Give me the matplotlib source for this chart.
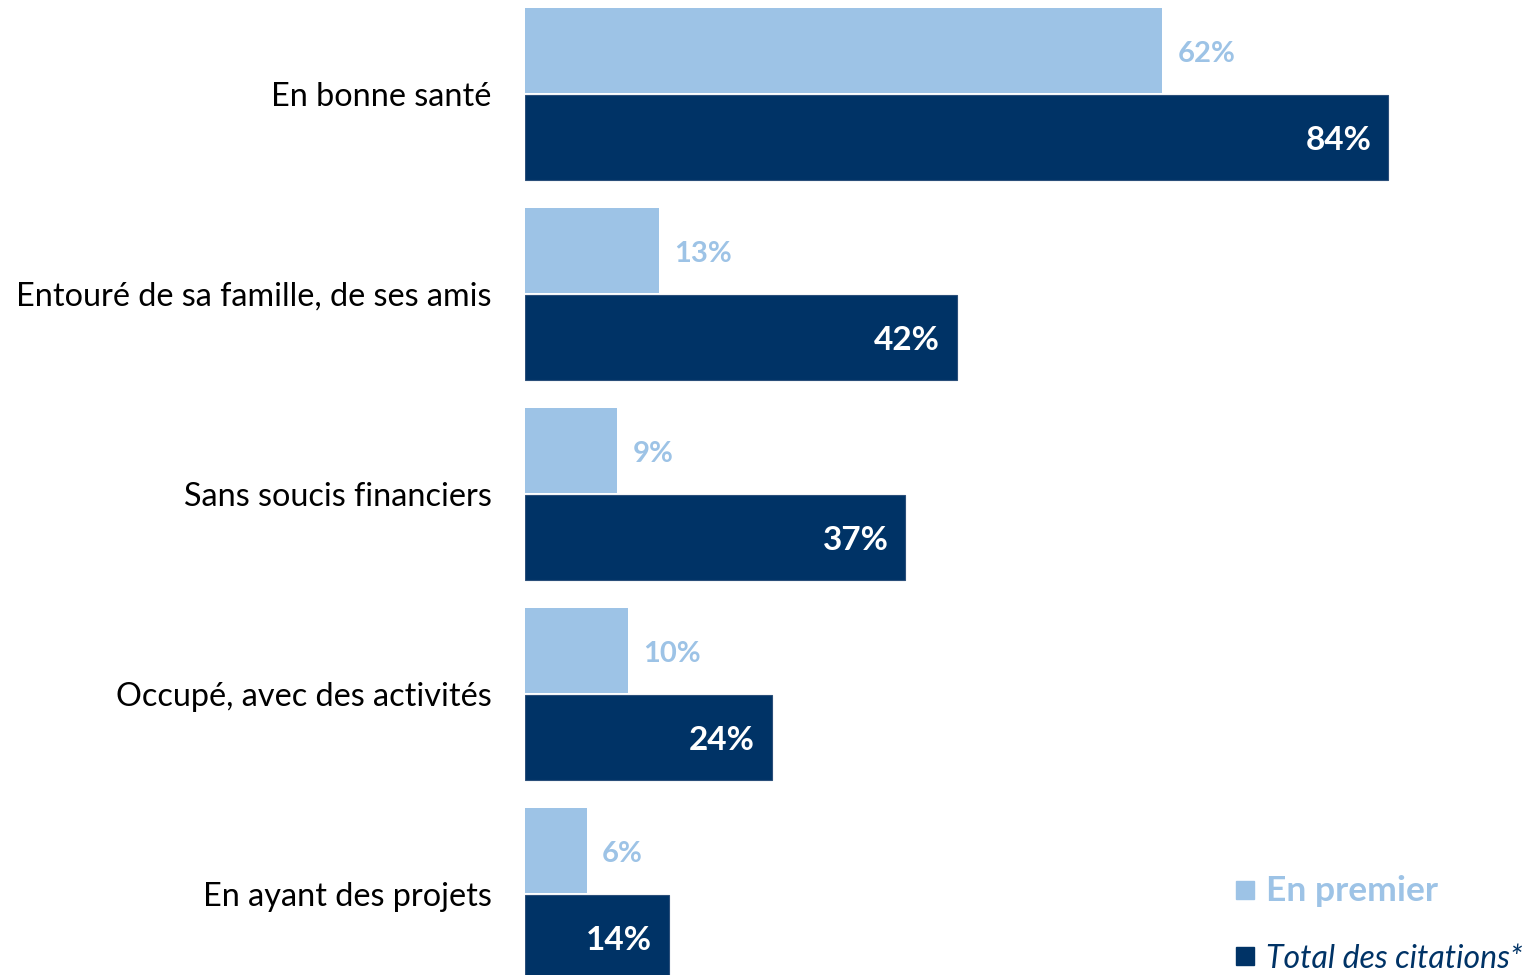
import numpy as np
import matplotlib.pyplot as plt
from matplotlib.lines import Line2D

categories = ['En bonne santé', 'Entouré de sa famille, de ses amis',
              'Sans soucis financiers', 'Occupé, avec des activités',
              'En ayant des projets']
en_premier = [62, 13, 9, 10, 6]
total_citations = [84, 42, 37, 24, 14]

light = '#9DC3E6'
dark = '#003366'

plt.rcParams['font.family'] = ['Lato', 'DejaVu Sans']


def main():
    fig = plt.figure(figsize=(15.27, 9.75), dpi=100)
    # axes starts where the bars start, runs to the right edge
    ax = fig.add_axes([525 / 1527, 0, 1 - 525 / 1527, 1])

    y = np.arange(len(categories))
    h = 0.425
    off = 0.2175

    ax.barh(y - off, en_premier, height=h, color=light)
    ax.barh(y + off, total_citations, height=h, color=dark,
            edgecolor='#2b4f7a', linewidth=0.8)

    for yi, v in zip(y, en_premier):
        ax.annotate(f'{v}%', (v, yi - off), xytext=(11, -2.5), textcoords='offset points',
                    va='center', ha='left', color=light, fontsize=21, fontweight='bold')
    for yi, v in zip(y, total_citations):
        ax.annotate(f'{v}%', (v, yi + off), xytext=(-12, -2), textcoords='offset points',
                    va='center', ha='right', color='white', fontsize=24, fontweight='bold')

    ax.set_xlim(0, 1002 / (863 / 84))
    ax.set_ylim(4.405, -0.47)
    ax.set_yticks(y)
    ax.set_yticklabels(categories, fontsize=23.3)
    ax.tick_params(axis='y', length=0, pad=24)
    ax.set_xticks([])
    for s in ax.spines.values():
        s.set_visible(False)

    handles = [Line2D([], [], marker='s', linestyle='none', color=light, markersize=13),
               Line2D([], [], marker='s', linestyle='none', color=dark, markersize=13)]
    leg = fig.legend(handles, ['En premier', 'Total des citations*'],
                     loc='lower right', bbox_to_anchor=(1.016, -0.028), frameon=False,
                     fontsize=23, handlelength=0.6, handletextpad=0.35, labelspacing=1.15)
    t1, t2 = leg.get_texts()
    t1.set_color(light)
    t1.set_fontweight('bold')
    t1.set_fontsize(25.5)
    t2.set_color(dark)
    t2.set_fontstyle('italic')

    fig.savefig('out.png', dpi=100)


if __name__ == '__main__':
    main()
